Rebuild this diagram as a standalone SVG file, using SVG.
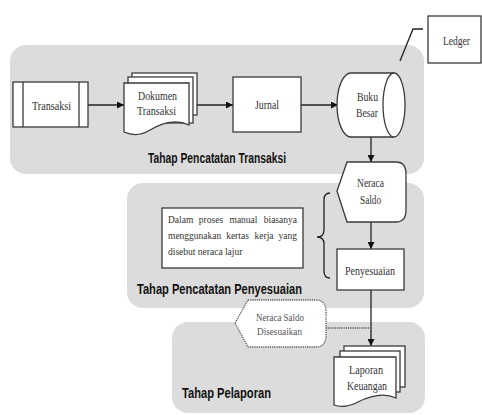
<svg xmlns="http://www.w3.org/2000/svg" width="482" height="415" viewBox="0 0 482 415">
<defs>
<style>
.panel{fill:#dcdcdc;stroke:none}
.shape{fill:#fff;stroke:#3a3a3a;stroke-width:1.3}
.dotted{fill:#fff;stroke:#555;stroke-width:1.3;stroke-dasharray:1.2 1}
.conn{fill:none;stroke:#222;stroke-width:1.3}
.t{font-family:"Liberation Serif","DejaVu Serif",serif;font-size:11.5px;fill:#333}
.ts{font-family:"Liberation Serif","DejaVu Serif",serif;font-size:10px;fill:#555}
.note{font-family:"Liberation Serif","DejaVu Serif",serif;font-size:9.5px;fill:#333}
.m{text-anchor:middle}
.e{text-anchor:end}
.title{font-family:"Liberation Sans","DejaVu Sans",sans-serif;font-size:14px;font-weight:bold;fill:#111}
</style>
<marker id="arr" viewBox="0 0 10 10" refX="10" refY="5" markerWidth="7" markerHeight="7" markerUnits="userSpaceOnUse" orient="auto">
<path d="M0,0 L10,5 L0,10 Z" fill="#111"/>
</marker>
</defs>

<g id="panels">
<rect class="panel" x="10" y="45" width="414" height="129" rx="16"/>
<rect class="panel" x="127" y="183" width="297" height="125" rx="16"/>
<rect class="panel" x="172" y="322" width="253" height="91" rx="16"/>
</g>

<g id="titles">
<text class="title" x="148" y="163" textLength="138" lengthAdjust="spacingAndGlyphs">Tahap Pencatatan Transaksi</text>
<text class="title" x="137" y="294" textLength="165" lengthAdjust="spacingAndGlyphs">Tahap Pencatatan Penyesuaian</text>
<text class="title" x="182" y="398" textLength="89" lengthAdjust="spacingAndGlyphs">Tahap Pelaporan</text>
</g>

<g id="connectors">
<line class="conn" x1="88" y1="105" x2="124" y2="105" marker-end="url(#arr)"/>
<line class="conn" x1="197" y1="105" x2="233" y2="105" marker-end="url(#arr)"/>
<line class="conn" x1="301" y1="105" x2="338" y2="105" marker-end="url(#arr)"/>
<line class="conn" x1="371" y1="137" x2="371" y2="162" marker-end="url(#arr)"/>
<line class="conn" x1="371" y1="222" x2="371" y2="249" marker-end="url(#arr)"/>
<line class="conn" x1="371" y1="290" x2="371" y2="346" marker-end="url(#arr)"/>
<line x1="326" y1="328" x2="371" y2="328" stroke="#555" stroke-width="1.3" stroke-dasharray="1.2 1"/>
<path class="conn" d="M423,29 H413 L400,61"/>
<path class="conn" d="M330,193 Q324,193 324,200 V230 Q324,237 317,237 Q324,237 324,244 V271 Q324,278 330,278"/>
</g>

<g id="transaksi">
<rect class="shape" x="13" y="82" width="75" height="45"/>
<line class="shape" x1="23" y1="82" x2="23" y2="127"/>
<line class="shape" x1="79" y1="82" x2="79" y2="127"/>
<text class="t" x="32" y="110" textLength="39" lengthAdjust="spacingAndGlyphs">Transaksi</text>
</g>

<g id="dokumen-transaksi">
<rect class="shape" x="132" y="73" width="65" height="42"/>
<rect class="shape" x="128" y="77" width="65" height="46"/>
<path class="shape" d="M124,83 H189 V125 C175,118 160,124 150,130 C142,135 133,136 124,132 Z"/>
<text class="t" x="138" y="100" textLength="39" lengthAdjust="spacingAndGlyphs">Dokumen</text>
<text class="t" x="137" y="115" textLength="39" lengthAdjust="spacingAndGlyphs">Transaksi</text>
</g>

<g id="jurnal">
<rect class="shape" x="233" y="77" width="68" height="55"/>
<text class="t" x="255" y="109" textLength="24" lengthAdjust="spacingAndGlyphs">Jurnal</text>
</g>

<g id="buku-besar">
<path class="shape" d="M394,73 H351 A14,32 0 0 0 351,137 H394"/>
<ellipse class="shape" cx="394" cy="105" rx="11" ry="32"/>
<text class="t" x="357" y="101" textLength="21" lengthAdjust="spacingAndGlyphs">Buku</text>
<text class="t" x="356" y="117" textLength="22" lengthAdjust="spacingAndGlyphs">Besar</text>
</g>

<g id="ledger">
<rect class="shape" x="428" y="16" width="53" height="47"/>
<text class="t" x="443" y="45" textLength="27" lengthAdjust="spacingAndGlyphs">Ledger</text>
</g>

<g id="neraca-saldo">
<path class="shape" d="M337,191 L347,162 H396 Q406,162 406,174 V210 Q406,222 396,222 H347 Z"/>
<text class="t" x="357" y="187" textLength="27" lengthAdjust="spacingAndGlyphs">Neraca</text>
<text class="t" x="360" y="204" textLength="21" lengthAdjust="spacingAndGlyphs">Saldo</text>
</g>

<g id="catatan">
<rect class="shape" x="162" y="208" width="141" height="60"/>
<text class="note" x="168" y="223">Dalam</text>
<text class="note m" x="211" y="223">proses</text>
<text class="note m" x="243.5" y="223">manual</text>
<text class="note e" x="297" y="223">biasanya</text>
<text class="note" x="168" y="239">menggunakan</text>
<text class="note m" x="237.5" y="239">kertas</text>
<text class="note m" x="264" y="239">kerja</text>
<text class="note e" x="297" y="239">yang</text>
<text class="note" x="168" y="255">disebut neraca lajur</text>
</g>

<g id="penyesuaian">
<rect class="shape" x="337" y="249" width="67" height="41"/>
<text class="t" x="345" y="275" textLength="50" lengthAdjust="spacingAndGlyphs">Penyesuaian</text>
</g>

<g id="neraca-saldo-disesuaikan">
<path class="dotted" d="M235,323 L248,300 H316 Q326,300 326,312 V335 Q326,347 316,347 H248 Z"/>
<text class="ts" x="256" y="321" textLength="48" lengthAdjust="spacingAndGlyphs">Neraca Saldo</text>
<text class="ts" x="257" y="335" textLength="45" lengthAdjust="spacingAndGlyphs">Disesuaikan</text>
</g>

<g id="laporan-keuangan">
<rect class="shape" x="344" y="346" width="61" height="41"/>
<rect class="shape" x="340" y="351" width="60" height="41"/>
<path class="shape" d="M334,357 H396 V398 C383,392 370,396 358,402 C350,406 342,408 334,405 Z"/>
<text class="t" x="349" y="374" textLength="34" lengthAdjust="spacingAndGlyphs">Laporan</text>
<text class="t" x="347" y="390" textLength="40" lengthAdjust="spacingAndGlyphs">Keuangan</text>
</g>
</svg>
